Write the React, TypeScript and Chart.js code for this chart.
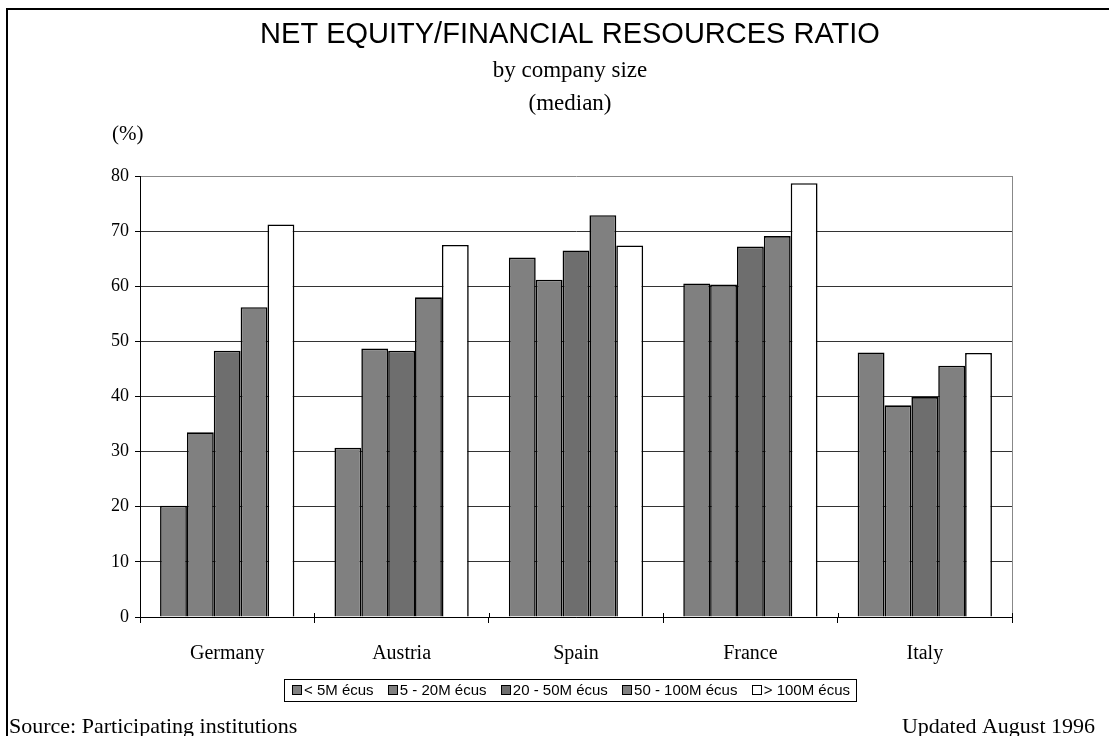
import React, { useEffect, useRef } from "react";
import { Chart, registerables } from "chart.js";

Chart.register(...registerables);

const categories = ["Germany", "Austria", "Spain", "France", "Italy"];
const seriesLabels = ["< 5M écus", "5 - 20M écus", "20 - 50M écus", "50 - 100M écus", "> 100M écus"];
const under5M = [20.2, 30.7, 65.2, 60.5, 48.0];
const from5to20M = [33.5, 48.7, 61.2, 60.3, 38.4];
const from20to50M = [48.3, 48.3, 66.5, 67.2, 39.9];
const from50to100M = [56.2, 58.0, 72.9, 69.1, 45.6];
const over100M = [71.2, 67.5, 67.4, 78.7, 47.9];
const seriesColors = ["#808080", "#808080", "#6e6e6e", "#808080", "#ffffff"];

const titleText = "NET EQUITY/FINANCIAL RESOURCES RATIO";
const subtitle1 = "by company size";
const subtitle2 = "(median)";
const unitText = "(%)";
const sourceText = "Source: Participating institutions";
const updatedText = "Updated August 1996";

const SANS = "'Liberation Sans', Arial, sans-serif";
const SERIF = "'Liberation Serif', 'Times New Roman', serif";

const decorPlugin = {
  id: "decor",
  beforeDatasetsDraw(chart: any) {
    const { ctx, chartArea } = chart;
    ctx.save();
    ctx.strokeStyle = "#888888";
    ctx.lineWidth = 1;
    ctx.beginPath();
    ctx.moveTo(Math.round(chartArea.right) + 0.5, chartArea.top);
    ctx.lineTo(Math.round(chartArea.right) + 0.5, chartArea.bottom);
    ctx.stroke();
    ctx.restore();
  },
  afterDraw(chart: any) {
    const { ctx, chartArea } = chart;
    ctx.save();
    // frame
    ctx.fillStyle = "#000";
    ctx.fillRect(6, 8, 1109, 2);
    ctx.fillRect(6, 8, 2, 736);

    // inner parts of category ticks
    const n = categories.length;
    const catW = (chartArea.right - chartArea.left) / n;
    ctx.strokeStyle = "#000";
    ctx.lineWidth = 1;
    for (let k = 1; k <= n; k++) {
      const x = Math.round(chartArea.left + k * catW) + 0.5;
      ctx.beginPath();
      ctx.moveTo(x, chartArea.bottom - 4);
      ctx.lineTo(x, chartArea.bottom);
      ctx.stroke();
    }

    // titles
    ctx.fillStyle = "#000";
    ctx.textAlign = "center";
    ctx.textBaseline = "alphabetic";
    ctx.font = `29px ${SANS}`;
    ctx.fillText(titleText, 570, 43);
    ctx.font = `23px ${SERIF}`;
    ctx.fillText(subtitle1, 570, 77);
    ctx.fillText(subtitle2, 570, 110);
    ctx.font = `21px ${SERIF}`;
    ctx.textAlign = "left";
    ctx.fillText(unitText, 112, 140);

    // footer
    ctx.font = `22px ${SERIF}`;
    ctx.textAlign = "left";
    ctx.fillText(sourceText, 9, 733);
    ctx.textAlign = "right";
    ctx.fillText(updatedText, 1095, 733);

    // legend
    const bx0 = 284, bx1 = 856, by0 = 679, by1 = 701;
    ctx.fillStyle = "#fff";
    ctx.fillRect(bx0, by0, bx1 - bx0, by1 - by0);
    ctx.strokeStyle = "#000";
    ctx.lineWidth = 1;
    ctx.strokeRect(bx0 + 0.5, by0 + 0.5, bx1 - bx0, by1 - by0);
    ctx.font = `15px ${SANS}`;
    ctx.textAlign = "left";
    ctx.textBaseline = "middle";
    const marker = 10, mGap = 2;
    const widths = seriesLabels.map((s) => ctx.measureText(s).width);
    const startX = 292, endX = 850;
    const content = widths.reduce((a, w) => a + marker + mGap + w, 0);
    const gap = (endX - startX - content) / (seriesLabels.length - 1);
    let x = startX;
    const cy = (by0 + by1) / 2;
    seriesLabels.forEach((s, i) => {
      ctx.fillStyle = seriesColors[i];
      ctx.fillRect(Math.round(x), Math.round(cy - marker / 2), marker, marker);
      ctx.strokeStyle = "#000";
      ctx.strokeRect(Math.round(x) + 0.5, Math.round(cy - marker / 2) + 0.5, marker - 1, marker - 1);
      ctx.fillStyle = "#000";
      ctx.fillText(s, x + marker + mGap, cy + 1);
      x += marker + mGap + widths[i] + gap;
    });
    ctx.restore();
  },
};

export default function App() {
  const ref = useRef<HTMLCanvasElement | null>(null);
  useEffect(() => {
    if (!ref.current) return;
    const seriesData = [under5M, from5to20M, from20to50M, from50to100M, over100M];
    const chart = new Chart(ref.current, {
      type: "bar",
      data: {
        labels: categories,
        datasets: seriesLabels.map((label, i) => ({
          label,
          data: seriesData[i],
          backgroundColor: seriesColors[i],
          borderColor: "#000000",
          borderWidth: 1.6,
          categoryPercentage: 0.77,
          barPercentage: 1.0,
        })),
      },
      options: {
        responsive: false,
        animation: false,
        devicePixelRatio: 1,
        layout: { padding: { left: 0, right: 97, top: 176, bottom: 0 } },
        plugins: {
          legend: { display: false },
          title: { display: false },
          tooltip: { enabled: false },
        },
        scales: {
          x: {
            offset: true,
            grid: {
              display: true,
              drawOnChartArea: false,
              offset: true,
              tickLength: 6,
              color: "#000",
              lineWidth: 1,
            },
            border: { display: true, color: "#000", width: 1 },
            ticks: {
              color: "#000",
              font: { family: SERIF, size: 20 },
              padding: 19,
              maxRotation: 0,
            },
            afterFit(scale: any) {
              scale.height = 119;
            },
          },
          y: {
            min: 0,
            max: 80,
            ticks: {
              stepSize: 10,
              color: "#000",
              font: { family: SERIF, size: 18 },
              padding: 6,
            },
            grid: {
              color: (c: any) => (c.tick && c.tick.value === 80 ? "#888888" : "#333333"),
              tickColor: "#000",
              tickLength: 5,
              lineWidth: 1,
            },
            border: { display: true, color: "#000", width: 1 },
            afterFit(scale: any) {
              scale.width = 140;
            },
          },
        },
      },
      plugins: [decorPlugin],
    });
    return () => chart.destroy();
  }, []);
  return (
    <div style={{ position: "absolute", left: 0, top: 0, width: 1109, height: 736, background: "#fff" }}>
      <canvas ref={ref} width={1109} height={736} style={{ display: "block" }} />
    </div>
  );
}
